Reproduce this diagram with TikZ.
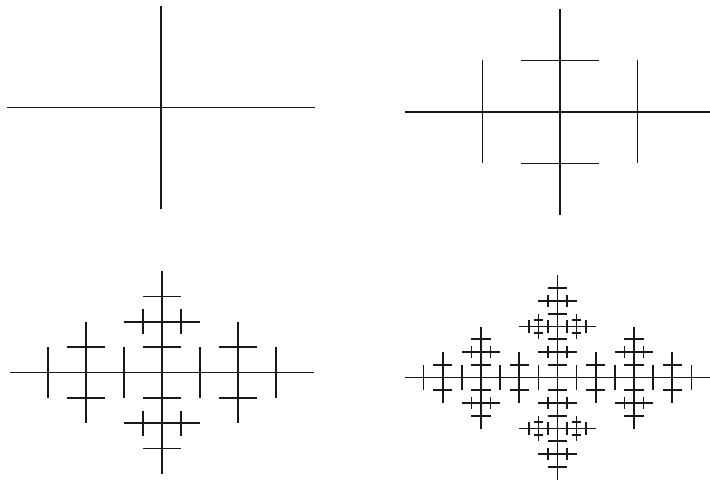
\documentclass[tikz,border=0pt]{standalone}

\tikzset{fracline/.style={line width=1.7pt, black!90}}

% one bar of the cross and the smaller bars that grow on it
% #1,#2 centre, #3 half length, #4 h or v, #5 stages still to come
\newcommand{\fracbar}[5]{%
  \begingroup
  \if h#4%
    \draw[fracline] (#1-#3,#2) -- (#1+#3,#2);
  \else
    \draw[fracline] (#1,#2-#3) -- (#1,#2+#3);
  \fi
  \ifnum#5>0
    \foreach \j in {1,...,#5}{%
      \pgfmathtruncatemacro{\nbars}{2^\j-1}%
      \pgfmathsetmacro{\piece}{2*#3/2^\j}%
      \pgfmathtruncatemacro{\rest}{#5-\j}%
      \foreach \m in {0,...,\nbars}{%
        \pgfmathsetmacro{\off}{-#3+(\m+0.5)*\piece}%
        \if h#4%
          \pgfmathsetmacro{\bx}{#1+\off}%
          \pgfmathsetmacro{\blen}{\piece/2}%
          \edef\nextbar{\noexpand\fracbar{\bx}{#2}{\blen}{v}{\rest}}%
        \else
          \pgfmathsetmacro{\by}{#2+\off}%
          \pgfmathsetmacro{\blen}{\piece/4}%
          \edef\nextbar{\noexpand\fracbar{#1}{\by}{\blen}{h}{\rest}}%
        \fi
        \nextbar
      }%
    }%
  \fi
  \endgroup}

\begin{document}
\begin{tikzpicture}[x=1pt, y=-1pt]
        \useasboundingbox (0,0) rectangle (710,481);

        % Top left: the bare cross
        \begin{scope}[shift={(161,107.5)}, xscale=154, yscale=101.5]
          \fracbar{0}{0}{1}{h}{0}
          \fracbar{0}{0}{1}{v}{0}
        \end{scope}

        % Top right: one stage
        \begin{scope}[shift={(560,112)}, xscale=155, yscale=103]
          \fracbar{0}{0}{1}{h}{1}
          \fracbar{0}{0}{1}{v}{1}
        \end{scope}

        % Bottom left: two stages
        \begin{scope}[shift={(162,372.5)}, xscale=152, yscale=101.5]
          \fracbar{0}{0}{1}{h}{2}
          \fracbar{0}{0}{1}{v}{2}
        \end{scope}

        % Bottom right: three stages
        \begin{scope}[shift={(557.5,377.5)}, xscale=153, yscale=102]
          \fracbar{0}{0}{1}{h}{3}
          \fracbar{0}{0}{1}{v}{3}
        \end{scope}
    \end{tikzpicture}
\end{document}
